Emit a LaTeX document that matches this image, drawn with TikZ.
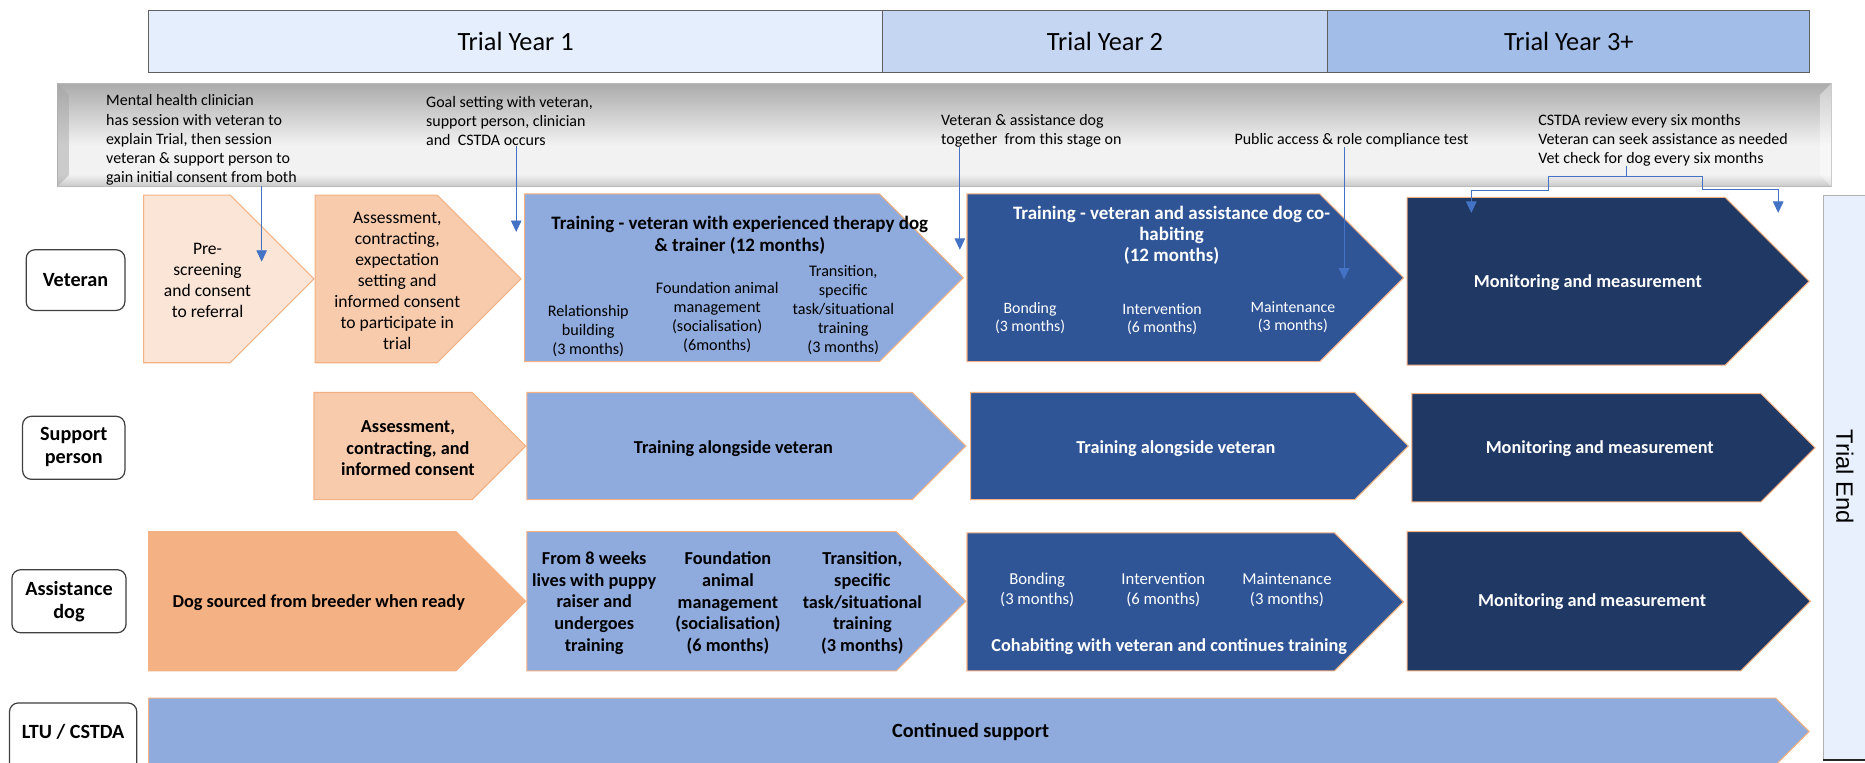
\documentclass[tikz,border=0pt]{standalone}
\usepackage{fontspec}
\setmainfont{Carlito}
\newfontfamily\endfont{Liberation Sans}
\usepackage{tikz}
\usetikzlibrary{arrows.meta}
\definecolor{peachpale}{HTML}{FBE5D6}
\definecolor{peachmid}{HTML}{F8CBAD}
\definecolor{peachdeep}{HTML}{F4B183}
\definecolor{bluepale}{HTML}{8FAADC}
\definecolor{bluemid}{HTML}{2F5597}
\definecolor{bluedeep}{HTML}{203864}
\definecolor{stageedge}{HTML}{F4B183}
\definecolor{yearone}{HTML}{E4EEFC}
\definecolor{yeartwo}{HTML}{C5D6F2}
\definecolor{yearthree}{HTML}{A2BDE8}
\definecolor{endbar}{HTML}{E7F0FC}
\definecolor{cueblue}{HTML}{4472C4}
\definecolor{bandtop}{HTML}{ABABAB}
\definecolor{bandlight}{HTML}{F2F2F2}
\definecolor{bandlow}{HTML}{C8C8C8}
\pgfdeclareverticalshading{band}{100bp}{color(0bp)=(bandlow); color(25bp)=(bandlow); color(31bp)=(bandlight); color(45bp)=(bandlight); color(75bp)=(bandtop); color(100bp)=(bandtop)}
% pentagon stage: fill, left x, top y, tip x, bottom y
\newcommand{\phasebox}[5]{%
  \draw[stagebox, fill=#1] (#2,#3) -- ({#4-(#5-#3)/2},#3) -- (#4,{(#3+#5)/2})
    -- ({#4-(#5-#3)/2},#5) -- (#2,#5) -- cycle;}

\begin{document}
\begin{tikzpicture}[x=0.0238cm, y=-0.0238cm,
  stagebox/.style={draw=stageedge, line width=0.6pt},
  yearbox/.style={draw=gray!75!black, line width=0.6pt},
  rowbox/.style={draw=black!75, line width=0.7pt, rounded corners=5pt, fill=white},
  rowtext/.style={font=\fontsize{11.5}{13.3}\selectfont\bfseries, align=center, inner sep=0pt},
  yeartext/.style={font=\fontsize{15}{17}\selectfont, inner sep=0pt},
  notetext/.style={font=\fontsize{9.1}{10.9}\selectfont, align=left, anchor=west, inner sep=0pt},
  stagetext/.style={font=\fontsize{10}{12}\selectfont, align=center, inner sep=0pt},
  boldtext/.style={font=\fontsize{10.4}{12.3}\selectfont\bfseries, align=center, inner sep=0pt},
  subtext/.style={font=\fontsize{9.2}{10.8}\selectfont, align=center, inner sep=0pt},
  cue/.style={draw=cueblue, line width=0.5pt, -{Triangle[length=6.5pt, width=6pt]}}]
  \useasboundingbox (0,0) rectangle (1568,641);

  % year header
  \draw[yearbox, fill=yearone] (125,9) rectangle (742,61);
  \draw[yearbox, fill=yeartwo] (742,9) rectangle (1116,61);
  \draw[yearbox, fill=yearthree] (1116,9) rectangle (1521,61);
  \node[yeartext] (year1) at (433.5,35) {Trial Year 1};
  \node[yeartext] (year2) at (929,35) {Trial Year 2};
  \node[yeartext] (year3) at (1319,35) {Trial Year 3+};

  % grey band with notes
  \shade[shading=band, draw=gray!55] (48,70) rectangle (1540,157);
  \fill[gray!70, opacity=0.5] (48,70) -- (58,80) -- (58,147) -- (48,157) -- cycle;
  \fill[white, opacity=0.4] (1540,70) -- (1530,80) -- (1530,147) -- (1540,157) -- cycle;
  \node[notetext] (clinician) at (89,117.7) {Mental health clinician\\has session with veteran to\\explain Trial, then session\\veteran \& support person to\\gain initial consent from both};
  \node[notetext] (goal) at (358,101.6) {Goal setting with veteran,\\support person, clinician\\and\ \ CSTDA occurs};
  \node[notetext] (together) at (791,109.7) {Veteran \& assistance dog\\together\ \ from this stage on};
  \node[notetext] (public) at (1037.6,117.7) {Public access \& role compliance test};
  \node[notetext] (review) at (1293,117.7) {CSTDA review every six months\\Veteran can seek assistance as needed\\Vet check for dog every six months};

  % trial end bar
  \draw[fill=endbar, draw=gray!60] (1533,164) rectangle (1575,639);
  \draw[gray!30!black, line width=0.8pt] (1533,639) -- (1568,639);
  \node[font=\endfont\fontsize{13.5}{15}\selectfont, rotate=-90, inner sep=0pt] (trialend) at (1551,401) {Trial End};

  % row labels
  \draw[rowbox] (22,210) rectangle (105,261);
  \node[rowtext] (veteran) at (63.5,235.5) {Veteran};
  \draw[rowbox] (19,350) rectangle (105,403);
  \node[rowtext] (supporter) at (62,376) {Support\\person};
  \draw[rowbox] (10,479) rectangle (106,532);
  \node[rowtext] (dog) at (58,506) {Assistance\\dog};
  \draw[rowbox] (8,591) rectangle (115,670);
  \node[rowtext] (ltu) at (61.5,615) {LTU / CSTDA};

  % veteran row
  \phasebox{peachpale}{120.7}{164}{264}{305}
  \phasebox{peachmid}{265}{164}{438}{305}
  \phasebox{bluepale}{441}{163}{810}{304}
  \phasebox{bluemid}{813}{163}{1180}{304}
  \phasebox{bluedeep}{1183}{166}{1521}{307}
  \node[stagetext] (prescreen) at (174.5,235.5) {Pre-\\screening\\and consent\\to referral};
  \node[stagetext] (vetassess) at (334,236) {Assessment,\\contracting,\\expectation\\setting and\\informed consent\\to participate in\\trial};
  \node[boldtext, font=\fontsize{10.8}{12.7}\selectfont\bfseries] (vettrain) at (622,198) {Training - veteran with experienced therapy dog\\\& trainer (12 months)};
  \node[subtext] (vetrel) at (494.6,278) {Relationship\\building\\(3 months)};
  \node[subtext] (vetfound) at (603,267) {Foundation animal\\management\\(socialisation)\\(6months)};
  \node[subtext] (vettrans) at (709,260.5) {Transition,\\specific\\task/situational\\training\\(3 months)};
  \node[boldtext, text=white, font=\fontsize{10.8}{11.9}\selectfont\bfseries] (vetcohab) at (985,197.6) {Training - veteran and assistance dog co-\\habiting\\(12 months)};
  \node[subtext, text=white, font=\fontsize{9}{10.3}\selectfont] (vetbond) at (866,267.5) {Bonding\\(3 months)};
  \node[subtext, text=white, font=\fontsize{9}{10.3}\selectfont] (vetinterv) at (977,268.5) {Intervention\\(6 months)};
  \node[subtext, text=white, font=\fontsize{9}{10.3}\selectfont] (vetmaint) at (1087,266.5) {Maintenance\\(3 months)};
  \node[boldtext, text=white] (vetmonitor) at (1335,237.7) {Monitoring and measurement};

  % support person row
  \phasebox{peachmid}{264}{330}{442}{420}
  \phasebox{bluepale}{443}{330}{812}{420}
  \phasebox{bluemid}{816}{330}{1184}{420}
  \phasebox{bluedeep}{1187}{331}{1526}{422}
  \node[boldtext] (supassess) at (343,377) {Assessment,\\contracting, and\\informed consent};
  \node[boldtext] (suptrain) at (616.6,377) {Training alongside veteran};
  \node[boldtext, text=white] (supcohab) at (988.6,377) {Training alongside veteran};
  \node[boldtext, text=white] (supmonitor) at (1345,377) {Monitoring and measurement};

  % assistance dog row
  \phasebox{peachdeep}{125}{447}{442}{564}
  \phasebox{bluepale}{443}{447}{812}{564}
  \phasebox{bluemid}{813}{448}{1180}{564}
  \phasebox{bluedeep}{1183}{447}{1522}{564}
  \node[boldtext] (dogsource) at (268,506.7) {Dog sourced from breeder when ready};
  \node[boldtext] (dogpuppy) at (499.6,507) {From 8 weeks\\lives with puppy\\raiser and\\undergoes\\training};
  \node[boldtext] (dogfound) at (612,507) {Foundation\\animal\\management\\(socialisation)\\(6 months)};
  \node[boldtext] (dogtrans) at (725,507) {Transition,\\specific\\task/situational\\training\\(3 months)};
  \node[subtext, text=white, font=\fontsize{9.5}{11.8}\selectfont] (dogbond) at (872,496) {Bonding\\(3 months)};
  \node[subtext, text=white, font=\fontsize{9.5}{11.8}\selectfont] (doginterv) at (978,496) {Intervention\\(6 months)};
  \node[subtext, text=white, font=\fontsize{9.5}{11.8}\selectfont] (dogmaint) at (1082,496) {Maintenance\\(3 months)};
  \node[boldtext, text=white] (dogcohab) at (983,543.7) {Cohabiting with veteran and continues training};
  \node[boldtext, text=white] (dogmonitor) at (1338.5,505.9) {Monitoring and measurement};

  % LTU / CSTDA row
  \phasebox{bluepale}{125}{587}{1521}{643}
  \node[boldtext, font=\fontsize{11.5}{13}\selectfont\bfseries] (continued) at (816,615) {Continued support};

  % cues from the notes
  \coordinate (hitA) at (220,220);
  \coordinate (hitB) at (434,195);
  \coordinate (hitC) at (807,210);
  \coordinate (hitD) at (1130,235);
  \coordinate (fork) at (1367,148.5);
  \coordinate (hitE) at (1237,179);
  \coordinate (hitF) at (1495,179);
  \draw[cue] (clinician.south -| hitA) -- (hitA);
  \draw[cue] (goal.south -| hitB) -- (hitB);
  \draw[cue] (together.south -| hitC) -- (hitC);
  \draw[cue] (public.south -| hitD) -- (hitD);
  \draw[cue] (review.south -| fork) -- (fork) -- (1302,148.5) -- (1302,160) -- (1237,160) -- (hitE);
  \draw[cue] (fork) -- (1431,148.5) -- (1431,159) -- (1495,159) -- (hitF);
\end{tikzpicture}
\end{document}
